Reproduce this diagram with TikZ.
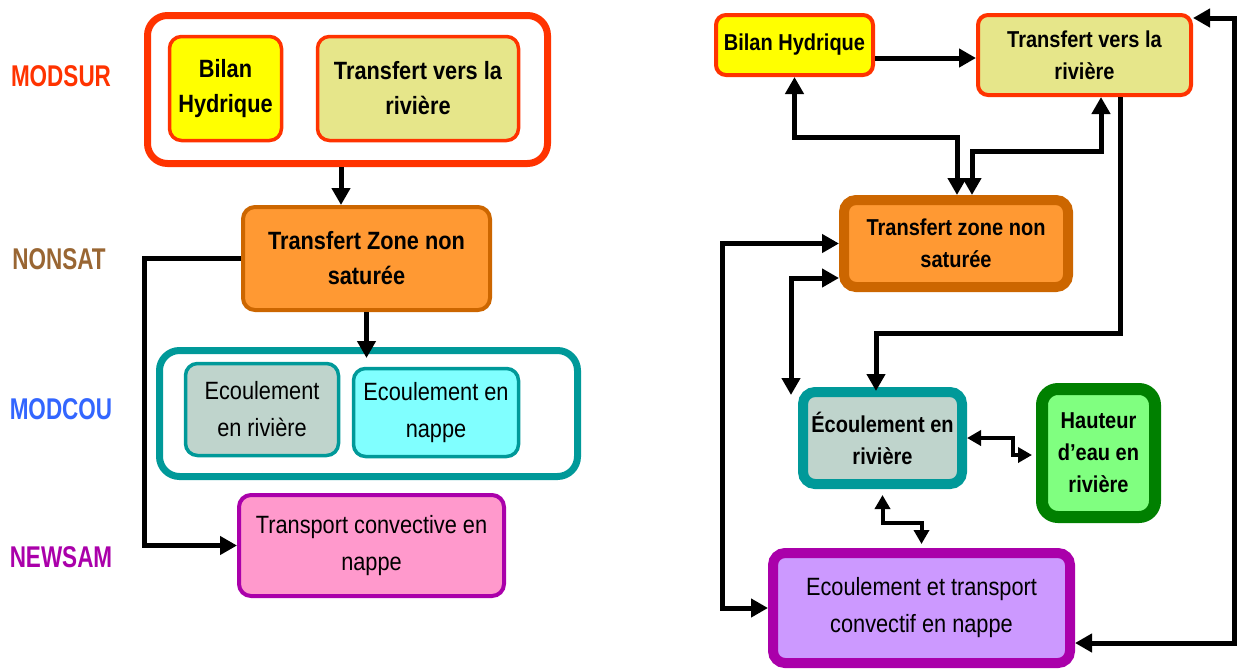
\documentclass[tikz,border=0pt]{standalone}
\usepackage{fontspec}
\setmainfont{Liberation Sans}[FakeStretch=0.87]
\newfontfamily\labfont{Liberation Sans}[FakeStretch=0.75]
\usetikzlibrary{arrows.meta}
\definecolor{cred}{HTML}{FF3300}
\definecolor{cbrown}{HTML}{996633}
\definecolor{cblue}{HTML}{3366FF}
\definecolor{cpurp}{HTML}{AA00AA}
\definecolor{cyel}{HTML}{FFFF00}
\definecolor{ckhaki}{HTML}{E6E68A}
\definecolor{corange}{HTML}{FF9933}
\definecolor{cdorange}{HTML}{CC6600}
\definecolor{cteal}{HTML}{009999}
\definecolor{cgreyg}{HTML}{BFD4CC}
\definecolor{ccyan}{HTML}{80FFFF}
\definecolor{cpink}{HTML}{FF99CC}
\definecolor{clav}{HTML}{CC99FF}
\definecolor{cgreen}{HTML}{008000}
\definecolor{clgreen}{HTML}{80FF80}
\begin{document}
\begin{tikzpicture}[x=1pt,y=-1pt,
  box/.style={draw, align=center, inner sep=0pt, rounded corners=12pt},
  lbold/.style={font=\fontsize{25}{35}\selectfont\bfseries},
  lreg/.style={font=\fontsize{25}{37}\selectfont},
  rbold/.style={font=\fontsize{23}{32}\selectfont\bfseries},
  rreg/.style={font=\fontsize{25}{37}\selectfont},
  lab/.style={font=\fontsize{30}{34}\selectfont\labfont\bfseries, inner sep=0pt},
  arr/.style={line width=5pt, -{Triangle[length=17pt,width=18pt]}},
  darr/.style={line width=5pt, {Triangle[length=17pt,width=18pt]}-{Triangle[length=17pt,width=18pt]}},
  zarr/.style={line width=4pt, {Triangle[length=14pt,width=15pt]}-{Triangle[length=14pt,width=15pt]}},
]
\useasboundingbox[fill=white] (0,0) rectangle (1237,670);

% ---------- left panel ----------
\node[lab, text=cred]   (lmodsur) at (61,76)  {MODSUR};
\node[lab, text=cbrown] (lnonsat) at (59,259) {NONSAT};
\node[lab, text=cblue]  (lmodcou) at (61,409) {MODCOU};
\node[lab, text=cpurp]  (lnewsam) at (61,557) {NEWSAM};

\node[box, draw=cred, line width=7pt, fill=white, rounded corners=20pt,
      minimum width=400pt, minimum height=148pt] (modsurbox) at (347.5,89.5) {};
\node[box, lbold, draw=cred, line width=3.5pt, fill=cyel,
      minimum width=112pt, minimum height=104pt] (lbilan) at (225.5,88.5) {Bilan\\Hydrique};
\node[box, lbold, draw=cred, line width=3.5pt, fill=ckhaki,
      minimum width=201pt, minimum height=104pt] (ltvr) at (418,88.5) {Transfert vers la\\rivière};

\node[box, lbold, draw=cdorange, line width=4pt, fill=corange,
      minimum width=247pt, minimum height=103pt] (ltzns) at (366.5,258.5) {Transfert Zone non\\saturée};

\node[box, draw=cteal, line width=7pt, fill=white, rounded corners=20pt,
      minimum width=418pt, minimum height=126pt] (modcoubox) at (368.5,413.5) {};
\node[box, lreg, draw=cteal, line width=3.5pt, fill=cgreyg,
      minimum width=153pt, minimum height=92pt] (lecr) at (262,409.5) {Ecoulement\\en rivière};
\node[box, lreg, draw=cteal, line width=3.5pt, fill=ccyan,
      minimum width=165pt, minimum height=88pt] (lecn) at (436,412.5) {Ecoulement en\\nappe};

\node[box, lreg, draw=cpurp, line width=4pt, fill=cpink,
      minimum width=265pt, minimum height=101pt] (ltrans) at (371.5,545.5) {Transport convective en\\nappe};

\draw[arr] ([xshift=-6.5pt]modsurbox.south) -- ([xshift=-6.5pt]modsurbox.south |- ltzns.north);
\draw[arr] (ltzns.south) -- ([yshift=-11pt]ltzns.south |- modcoubox.north);
\draw[arr] (ltzns.west) -- ++(-97,0) |- (ltrans.west);

% ---------- right panel ----------
\node[box, rbold, draw=cred, line width=4pt, fill=cyel, rounded corners=10pt,
      minimum width=157pt, minimum height=60pt] (rbilan) at (794.5,45) {\raisebox{5pt}{Bilan Hydrique}};
\node[box, rbold, draw=cred, line width=4pt, fill=ckhaki, rounded corners=10pt,
      minimum width=213pt, minimum height=80pt] (rtvr) at (1084.5,55) {Transfert vers la\\rivière};
\node[box, rbold, draw=cdorange, line width=10pt, fill=corange,
      minimum width=224pt, minimum height=87pt] (rtzns) at (956,243.5) {Transfert zone non\\saturée};
\node[box, rbold, draw=cteal, line width=10pt, fill=cgreyg,
      minimum width=159pt, minimum height=92pt] (recr) at (882.5,438) {Écoulement en\\rivière};
\node[box, rbold, draw=cgreen, line width=12pt, fill=clgreen, rounded corners=16pt,
      minimum width=113pt, minimum height=128pt] (rh) at (1098.5,453) {Hauteur\\d’eau en\\rivière};
\node[box, rreg, draw=cpurp, line width=10pt, fill=clav,
      minimum width=297pt, minimum height=110pt] (retc) at (921.5,608) {Ecoulement et transport\\convectif en nappe};

\draw[arr] ([yshift=-13pt]rbilan.east) -- ([yshift=-13pt]rbilan.east -| rtvr.west);
\draw[darr] (rbilan.south) -- ++(0,60) -| ([xshift=1pt]rtzns.north);
\draw[darr] ([xshift=16.5pt]rtvr.south) -- ++(0,54) -| ([xshift=16pt]rtzns.north);
\draw[arr] ([xshift=35.5pt]rtvr.south) -- ++(0,236) -| ([xshift=-6.5pt,yshift=-4pt]recr.north);
\draw[darr] (rtzns.west) -- ++(-117,0) |- (retc.west);
\draw[darr] ([yshift=-34.5pt]rtzns.west) -| ([xshift=-7pt,yshift=-8pt]recr.north west);
\draw[darr] ([yshift=37pt]rtvr.east) -- ++(41,0) |- ([yshift=-35pt]retc.east);
\draw[zarr] (recr.east) -- ++(46,0) |- ([xshift=-4pt,yshift=-2pt]rh.west);
\draw[zarr] ([yshift=-6pt]recr.south) -- ++(0,28) -| ([yshift=4pt]retc.north);
\end{tikzpicture}
\end{document}
